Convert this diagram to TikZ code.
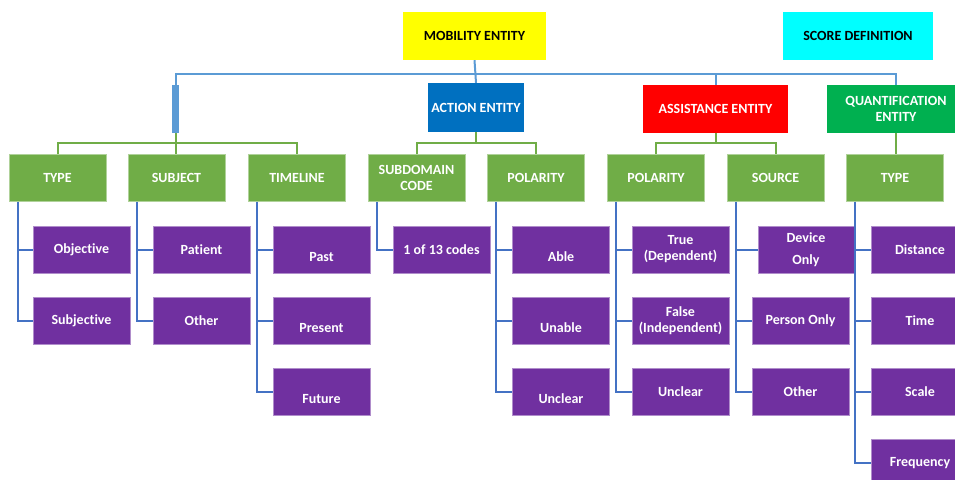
\documentclass[tikz,border=0pt]{standalone}
\usepackage{fontspec}
\setmainfont[Ligatures={NoCommon}]{Carlito}

\definecolor{busblue}{HTML}{5B9BD5}
\definecolor{lineblue}{HTML}{4472C4}
\definecolor{actblue}{HTML}{0070C0}
\definecolor{quantgreen}{HTML}{00B050}
\definecolor{catgreen}{HTML}{70AD47}
\definecolor{valpurple}{HTML}{7030A0}
\definecolor{mobyellow}{HTML}{FFFF00}
\definecolor{scorecyan}{HTML}{00FFFF}
\definecolor{assistred}{HTML}{FF0000}

\tikzset{
	box/.style={shape=rectangle, minimum width=97pt, minimum height=47pt, inner sep=1pt, align=center, text=white, font=\fontsize{14}{16}\selectfont\bfseries},
	topbox/.style={box, text=black},
	catbox/.style={box, fill=catgreen, draw=catgreen!55!white, line width=0.6pt},
	valbox/.style={box, fill=valpurple, draw=valpurple!55!white, line width=0.6pt},
	lowtext/.style={text height=26pt, text depth=3pt},
	busline/.style={draw=busblue, line width=2pt},
	catline/.style={draw=catgreen, line width=2pt},
	valline/.style={draw=lineblue, line width=2pt}
}

\begin{document}
\begin{tikzpicture}[x=1pt, y=-1pt]
	\useasboundingbox[fill=white] (0, 0) rectangle (955, 479);
	% Entities:
	\node[topbox, fill=mobyellow, minimum width=143pt, minimum height=48pt] (mob) at (474.5, 36){MOBILITY ENTITY};
	\node[topbox, fill=scorecyan, minimum width=150pt, minimum height=48pt] (score) at (858, 36){SCORE DEFINITION};
	\node[shape=rectangle, fill=busblue, minimum width=7pt, minimum height=48pt, inner sep=0pt] (bar) at (175.5, 109){};
	\node[box, fill=actblue, minimum width=96pt, minimum height=49pt] (act) at (476, 107.5){ACTION ENTITY};
	\node[box, fill=assistred, minimum width=145pt, minimum height=48pt] (assist) at (715.5, 109){ASSISTANCE ENTITY};
	\node[box, fill=quantgreen, minimum width=138pt, minimum height=48pt] (quant) at (896, 109){QUANTIFICATION\\ENTITY};
	\coordinate (bus) at (476, 74);
	% Categories:
	\node[catbox] (ctype) at (57.5, 178){TYPE};
	\node[catbox] (csubj) at (176.5, 178){SUBJECT};
	\node[catbox] (ctime) at (297, 178){TIMELINE};
	\node[catbox] (ccode) at (416.5, 178){SUBDOMAIN\\CODE};
	\node[catbox] (capol) at (536, 178){POLARITY};
	\node[catbox] (cspol) at (656, 178){POLARITY};
	\node[catbox] (csrc) at (775.5, 178){SOURCE};
	\node[catbox] (cqtype) at (895, 178){TYPE};
	% Values:
	\node[valbox] (vobj) at (81.5, 249.5){Objective};
	\node[valbox] (vsubj) at (81.5, 321){Subjective};
	\node[valbox] (vpat) at (201.5, 249.5){Patient};
	\node[valbox] (vsoth) at (201.5, 321){Other};
	\node[valbox, lowtext] (vpast) at (321.5, 249.5){Past};
	\node[valbox, lowtext] (vpres) at (321.5, 321){Present};
	\node[valbox, lowtext] (vfut) at (321.5, 392){Future};
	\node[valbox] (vcodes) at (441.5, 249.5){1 of 13 codes};
	\node[valbox, lowtext] (vable) at (561, 249.5){Able};
	\node[valbox, lowtext] (vunable) at (561, 321){Unable};
	\node[valbox, lowtext] (vaunc) at (561, 392){Unclear};
	\node[valbox] (vtrue) at (680.5, 249.5){True\\(Dependent)};
	\node[valbox] (vfalse) at (680.5, 321){False\\(Independent)};
	\node[valbox] (vsunc) at (680.5, 392){Unclear};
	\node[valbox, minimum width=96pt] (vdev) at (806, 249.5){Device\\[6pt]Only};
	\node[valbox] (vpers) at (800.5, 321){Person Only};
	\node[valbox] (vroth) at (800.5, 392){Other};
	\node[valbox] (vdist) at (920, 249.5){Distance};
	\node[valbox] (vtime) at (920, 321){Time};
	\node[valbox] (vscale) at (920, 392){Scale};
	\node[valbox] (vfreq) at (920, 463){Frequency};
	% Wires:
	\draw[busline] (bar.north) |- (bus) -| (quant.north);
	\draw[busline] (mob.south) -- (act.north);
	\draw[busline] (bus) -| (assist.north);
	\draw[catline] (bar.south) -- (bar.south |- csubj.north);
	\draw[catline] (ctype.north) -- ++(0, -11) -| (ctime.north);
	\draw[catline] (act.south) -- ++(0, 11);
	\draw[catline] (ccode.north) -- ++(0, -11) -| (capol.north);
	\draw[catline] (assist.south) -- ++(0, 10);
	\draw[catline] (cspol.north) -- ++(0, -11) -| (csrc.north);
	\draw[catline] (quant.south) -- (quant.south |- cqtype.north);
	\foreach \cat/\vals in {ctype/{vobj,vsubj}, csubj/{vpat,vsoth}, ctime/{vpast,vpres,vfut}, ccode/{vcodes}, capol/{vable,vunable,vaunc}, cspol/{vtrue,vfalse,vsunc}, csrc/{vdev,vpers,vroth}, cqtype/{vdist,vtime,vscale,vfreq}}
		\foreach \val in \vals
			\draw[valline] ([xshift=9pt]\cat.south west) |- (\val.west);
\end{tikzpicture}
\end{document}
